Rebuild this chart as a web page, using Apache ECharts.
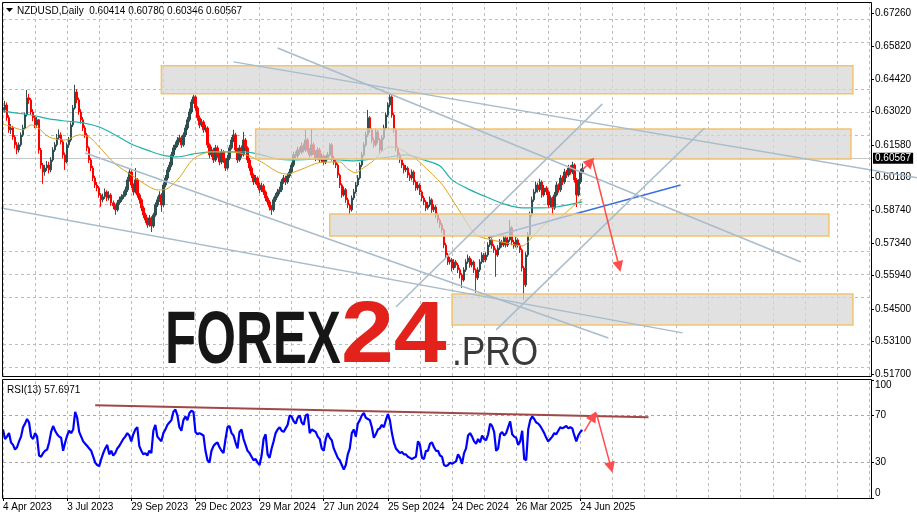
<!DOCTYPE html>
<html><head><meta charset="utf-8">
<script src="https://cdn.jsdelivr.net/npm/echarts@6/dist/echarts.min.js"></script>
<style>html,body{margin:0;padding:0;background:#fff}#c{width:917px;height:519px}</style>
</head><body><div id="c"></div>
<script>
// ---------- DATA (2-day resolution) ----------
const firstOpen = 0.6320;
const closes = [
0.6309,0.6330,0.6275,0.6223,0.6231,0.6192,0.6158,0.6136,0.6158,0.6201,
0.6231,0.6287,0.6361,0.6352,0.6300,0.6275,0.6244,0.6266,0.6136,0.6071,
0.6041,0.6058,0.6071,0.6050,0.6093,0.6136,0.6158,0.6188,0.6201,0.6171,
0.6115,0.6084,0.6158,0.6179,0.6244,0.6317,0.6386,0.6352,0.6300,0.6266,
0.6231,0.6201,0.6145,0.6093,0.6058,0.6015,0.5985,0.5972,0.5942,0.5921,
0.5934,0.5955,0.5929,0.5942,0.5908,0.5895,0.5878,0.5908,0.5921,0.5934,
0.5942,0.5964,0.6007,0.6041,0.5985,0.5955,0.6007,0.5942,0.5921,0.5886,
0.5856,0.5834,0.5813,0.5843,0.5808,0.5856,0.5899,0.5921,0.5942,0.5899,
0.5985,0.6015,0.6050,0.6071,0.6115,0.6145,0.6158,0.6179,0.6188,0.6158,
0.6201,0.6231,0.6266,0.6300,0.6343,0.6365,0.6317,0.6275,0.6244,0.6257,
0.6223,0.6231,0.6158,0.6115,0.6136,0.6093,0.6145,0.6115,0.6084,0.6127,
0.6093,0.6058,0.6101,0.6145,0.6179,0.6201,0.6136,0.6093,0.6145,0.6115,
0.6179,0.6145,0.6093,0.6058,0.6028,0.5998,0.6015,0.5985,0.5964,0.5981,
0.5955,0.5929,0.5912,0.5890,0.5878,0.5921,0.5938,0.5955,0.5964,0.5998,
0.6015,0.5998,0.6024,0.6041,0.6071,0.6115,0.6110,0.6136,0.6127,0.6153,
0.6136,0.6179,0.6136,0.6115,0.6158,0.6127,0.6101,0.6136,0.6093,0.6110,
0.6084,0.6101,0.6115,0.6158,0.6101,0.6084,0.6071,0.6028,0.5985,0.5942,
0.5964,0.5921,0.5899,0.5878,0.5929,0.5955,0.5985,0.6015,0.6071,0.6115,
0.6158,0.6201,0.6275,0.6223,0.6179,0.6158,0.6214,0.6179,0.6136,0.6188,
0.6231,0.6287,0.6330,0.6365,0.6287,0.6223,0.6145,0.6115,0.6093,0.6071,
0.6050,0.6058,0.6028,0.6015,0.6041,0.5998,0.5972,0.5985,0.5955,0.5929,
0.5912,0.5886,0.5899,0.5921,0.5878,0.5890,0.5856,0.5834,0.5813,0.5791,
0.5726,0.5683,0.5653,0.5662,0.5627,0.5653,0.5640,0.5619,0.5597,0.5575,
0.5619,0.5653,0.5670,0.5640,0.5653,0.5619,0.5584,0.5619,0.5653,0.5683,
0.5662,0.5683,0.5726,0.5748,0.5722,0.5705,0.5683,0.5713,0.5739,0.5726,
0.5757,0.5726,0.5748,0.5800,0.5739,0.5722,0.5748,0.5726,0.5705,0.5627,
0.5554,0.5683,0.5770,0.5856,0.5921,0.5955,0.5985,0.5964,0.5998,0.5942,
0.5972,0.5955,0.5899,0.5929,0.5886,0.5942,0.5985,0.5964,0.6015,0.5998,
0.6041,0.6028,0.6058,0.6041,0.6071,0.6007,0.5942,0.5998,0.6041,0.60567
];
const highs = [
0.6378,0.6348,0.6341,0.6286,0.6248,0.6240,0.6200,0.6170,0.6168,0.6212,
0.6245,0.6298,0.6395,0.6378,0.6360,0.6312,0.6285,0.6278,0.6270,0.6145,
0.6080,0.6072,0.6088,0.6085,0.6105,0.6148,0.6170,0.6205,0.6225,0.6212,
0.6180,0.6125,0.6168,0.6192,0.6255,0.6330,0.6417,0.6398,0.6362,0.6312,
0.6278,0.6242,0.6210,0.6152,0.6102,0.6068,0.6025,0.5998,0.5980,0.5950,
0.5948,0.5970,0.5962,0.5958,0.5950,0.5918,0.5902,0.5920,0.5935,0.5945,
0.5958,0.5978,0.6020,0.6058,0.6048,0.5992,0.6058,0.6015,0.5950,0.5928,
0.5895,0.5865,0.5845,0.5855,0.5850,0.5865,0.5910,0.5935,0.5958,0.5950,
0.5995,0.6028,0.6062,0.6085,0.6128,0.6158,0.6172,0.6192,0.6202,0.6198,
0.6212,0.6245,0.6278,0.6315,0.6355,0.6374,0.6372,0.6325,0.6285,0.6270,
0.6265,0.6245,0.6238,0.6165,0.6150,0.6145,0.6158,0.6155,0.6125,0.6140,
0.6135,0.6100,0.6115,0.6158,0.6192,0.6223,0.6210,0.6145,0.6158,0.6155,
0.6214,0.6188,0.6152,0.6102,0.6068,0.6035,0.6028,0.6022,0.5995,0.5995,
0.5990,0.5962,0.5938,0.5920,0.5898,0.5932,0.5950,0.5968,0.5978,0.6010,
0.6028,0.6025,0.6035,0.6055,0.6082,0.6128,0.6130,0.6150,0.6148,0.6168,
0.6165,0.6223,0.6188,0.6145,0.6227,0.6168,0.6135,0.6148,0.6145,0.6122,
0.6118,0.6112,0.6128,0.6166,0.6165,0.6110,0.6092,0.6078,0.6035,0.5992,
0.5978,0.5972,0.5930,0.5905,0.5940,0.5968,0.5998,0.6028,0.6082,0.6128,
0.6170,0.6215,0.6309,0.6282,0.6230,0.6190,0.6228,0.6222,0.6188,0.6200,
0.6245,0.6298,0.6342,0.6382,0.6372,0.6295,0.6230,0.6152,0.6125,0.6102,
0.6080,0.6072,0.6065,0.6038,0.6052,0.6048,0.6005,0.5998,0.5992,0.5962,
0.5938,0.5920,0.5912,0.5935,0.5928,0.5902,0.5898,0.5865,0.5842,0.5822,
0.5798,0.5735,0.5692,0.5675,0.5670,0.5665,0.5662,0.5648,0.5628,0.5605,
0.5630,0.5665,0.5685,0.5678,0.5665,0.5660,0.5625,0.5630,0.5665,0.5695,
0.5692,0.5695,0.5738,0.5762,0.5755,0.5730,0.5712,0.5725,0.5752,0.5748,
0.5770,0.5765,0.5760,0.5834,0.5808,0.5748,0.5760,0.5755,0.5735,0.5712,
0.5635,0.5695,0.5782,0.5870,0.5935,0.5968,0.6000,0.5995,0.6012,0.6005,
0.5985,0.5980,0.5962,0.5940,0.5935,0.5955,0.5998,0.5992,0.6028,0.6025,
0.6055,0.6050,0.6072,0.6070,0.6085,0.6078,0.6015,0.6010,0.6055,0.60780
];
const lows = [
0.6295,0.6298,0.6262,0.6210,0.6205,0.6180,0.6142,0.6118,0.6125,0.6150,
0.6192,0.6225,0.6280,0.6335,0.6288,0.6260,0.6230,0.6232,0.6120,0.6055,
0.5990,0.6025,0.6045,0.6035,0.6040,0.6085,0.6128,0.6150,0.6180,0.6160,
0.6100,0.6050,0.6078,0.6145,0.6170,0.6235,0.6310,0.6338,0.6288,0.6250,
0.6218,0.6188,0.6130,0.6080,0.6045,0.6002,0.5972,0.5958,0.5930,0.5891,
0.5910,0.5925,0.5915,0.5918,0.5895,0.5880,0.5856,0.5870,0.5900,0.5912,
0.5925,0.5935,0.5955,0.6000,0.5972,0.5940,0.5948,0.5930,0.5905,0.5872,
0.5842,0.5820,0.5800,0.5805,0.5782,0.5800,0.5848,0.5890,0.5912,0.5869,
0.5890,0.5975,0.6005,0.6040,0.6062,0.6105,0.6135,0.6148,0.6168,0.6145,
0.6150,0.6192,0.6222,0.6258,0.6292,0.6335,0.6305,0.6262,0.6230,0.6235,
0.6210,0.6212,0.6145,0.6100,0.6105,0.6080,0.6085,0.6102,0.6070,0.6075,
0.6080,0.6045,0.6050,0.6092,0.6138,0.6170,0.6125,0.6080,0.6085,0.6102,
0.6108,0.6132,0.6080,0.6045,0.6015,0.5985,0.5988,0.5972,0.5950,0.5955,
0.5942,0.5915,0.5898,0.5875,0.5856,0.5870,0.5912,0.5930,0.5945,0.5955,
0.5990,0.5985,0.5990,0.6015,0.6032,0.6062,0.6098,0.6102,0.6115,0.6118,
0.6125,0.6128,0.6125,0.6102,0.6108,0.6115,0.6088,0.6092,0.6080,0.6082,
0.6072,0.6075,0.6092,0.6108,0.6090,0.6072,0.6058,0.6015,0.5972,0.5930,
0.5935,0.5908,0.5885,0.5856,0.5870,0.5920,0.5948,0.5978,0.6008,0.6062,
0.6108,0.6150,0.6192,0.6210,0.6165,0.6145,0.6150,0.6165,0.6122,0.6128,
0.6180,0.6222,0.6278,0.6320,0.6275,0.6210,0.6130,0.6100,0.6080,0.6058,
0.6035,0.6040,0.6015,0.6002,0.6005,0.5985,0.5960,0.5962,0.5942,0.5915,
0.5898,0.5872,0.5878,0.5890,0.5865,0.5868,0.5842,0.5820,0.5800,0.5778,
0.5712,0.5670,0.5640,0.5642,0.5612,0.5618,0.5628,0.5605,0.5582,0.5541,
0.5568,0.5610,0.5645,0.5628,0.5630,0.5605,0.5520,0.5575,0.5610,0.5645,
0.5650,0.5652,0.5675,0.5718,0.5710,0.5692,0.5589,0.5675,0.5705,0.5715,
0.5718,0.5715,0.5718,0.5740,0.5725,0.5710,0.5715,0.5715,0.5692,0.5612,
0.5489,0.5545,0.5675,0.5762,0.5848,0.5912,0.5948,0.5952,0.5955,0.5930,
0.5935,0.5942,0.5885,0.5890,0.5856,0.5878,0.5935,0.5952,0.5955,0.5985,
0.5990,0.6015,0.6020,0.6030,0.6032,0.5995,0.5890,0.5935,0.5990,0.60346
];
const rsiValues = [
58,50,52,55,47,45,41,43,48,52, 60,63,67,64,52,50,55,52,36,35,
38,40,41,47,56,61,57,54,52,51, 40,47,53,57,55,58,73,68,56,52,
48,46,44,42,40,35,30,28,27,33, 38,42,45,37,40,36,38,42,44,47,
50,52,55,53,48,54,58,60,44,40, 37,38,36,40,38,57,62,52,50,48,
55,58,62,64,66,73,75,70,60,57, 66,69,66,72,74,73,56,54,55,54,
53,40,32,30,40,44,46,47,43,40, 38,50,60,61,55,53,47,42,56,58,
50,45,40,38,35,32,33,30,28,36, 50,54,37,34,42,48,55,58,60,57,
56,59,62,70,69,65,63,68,70,64, 62,70,71,55,58,57,56,52,50,42,
40,50,55,51,49,42,38,34,32,28, 24,28,37,42,55,58,52,63,66,70,
72,68,67,66,60,51,54,58,59,62, 60,66,71,66,55,47,42,40,38,39,
37,37,35,34,33,34,35,48,45,34, 33,40,40,46,47,43,40,40,36,35,
28,27,28,30,29,30,31,37,34,29, 38,42,53,55,52,48,46,50,47,53,
50,49,54,63,61,56,40,42,54,56, 53,55,60,65,54,52,51,45,48,57,
33,32,58,66,69,67,64,63,61,58, 55,51,48,50,52,55,54,57,60,59,
60,61,59,60,59,53,48,53,56,57.6971
];
// moving averages: [bar index, value]
const maSlow = [[0,0.6305],[6,0.6296],[14,0.6287],[23,0.6270],[31,0.6261],[40,0.6253],[48,0.6235],[56,0.6201],[64,0.6162],[73,0.6132],[79,0.6115],[87,0.6106],[95,0.6119],[104,0.6128],[120,0.6128],[129,0.6115],[137,0.6097],[145,0.6093],[160,0.6097],[168,0.6093],[176,0.6089],[184,0.6097],[193,0.6106],[201,0.6115],[210,0.6093],[218,0.6067],[224,0.6007],[233,0.5964],[241,0.5934],[250,0.5903],[259,0.5886],[268,0.5886],[276,0.5890],[289,0.5912]];
const maFast = [[0,0.6248],[3,0.6240],[10,0.6223],[14,0.6244],[17,0.6235],[23,0.6192],[31,0.6179],[38,0.6201],[43,0.6192],[48,0.6149],[56,0.6076],[64,0.6028],[73,0.5977],[77,0.5964],[80,0.5964],[87,0.6007],[95,0.6097],[104,0.6128],[112,0.6128],[120,0.6119],[129,0.6084],[137,0.6041],[142,0.6032],[148,0.6050],[160,0.6084],[168,0.6084],[172,0.6054],[176,0.6037],[179,0.6054],[184,0.6084],[193,0.6149],[198,0.6140],[206,0.6097],[213,0.6041],[218,0.5998],[221,0.5964],[229,0.5856],[236,0.5770],[244,0.5748],[251,0.5735],[259,0.5722],[264,0.5761],[271,0.5821],[278,0.5847],[284,0.5890],[289,0.5925]];
// zones: [fromBar, priceTop, toBar, priceBottom]
const zones = [[79.3,0.6499,424,0.6378],[125.7,0.6227,422.5,0.6097],[162.6,0.5860,411.6,0.5765],[224,0.5515,424,0.5381]];
// grey trend lines: [bar1, price1, bar2, price2]
const trendLines = [[114.7,0.6516,456,0.6016],[137.2,0.6576,397.6,0.5653],[-1.5,0.5886,339.2,0.5347],[40.9,0.6123,301.8,0.5325],[195.5,0.5459,299.3,0.6335],[246.4,0.5360,350.2,0.6231]];
const blueLine = [[241.9,0.5757,337.7,0.5985]];
const priceArrows = [[289.3,0.6050,294.8,0.6102],[294.3,0.6093,307.8,0.5610]];
const rsiTrend = [[45.9,78.6,321.8,68.4]];
const rsiArrows = [[290.3,56.4,296.3,73.5],[296.3,71.8,303.8,21.4]];
const dateLabels = ['4 Apr 2023','3 Jul 2023','29 Sep 2023','29 Dec 2023','29 Mar 2024','27 Jun 2024','25 Sep 2024','24 Dec 2024','26 Mar 2025','24 Jun 2025'];
const priceTicks = [0.6726,0.6582,0.6442,0.6302,0.6158,0.6018,0.5874,0.5734,0.5594,0.5450,0.5310,0.5170];
const rsiTicks = [0,30,70,100];
const rsiLevels = [30,70];
const priceRange = [0.5161, 0.6770];
const rsiRange = [0, 100];
const lastPrice = 0.60567;
const headerText = 'NZDUSD,Daily  0.60414 0.60780 0.60346 0.60567';
const rsiHeader = 'RSI(13) 57.6971';
const totalSlots = 434;
const gridStep = 16;

// ---------- BUILD ----------
const cats = Array.from({length: totalSlots}, (_, i) => String(i));
const ohlc = closes.map((c, i) => [i === 0 ? firstOpen : closes[i - 1], c, lows[i], highs[i]]);
const FONT = '"Liberation Sans", Arial, sans-serif';
const vIdx = cats.map((c, i) => i).filter(i => i % gridStep === 0);
const px = (v) => Math.round(v) + 0.5;

// grid lines as markLines (same mechanism as the visible last-price line)
function gridMarkLine(hVals, vColor, hColor) {
  const data = [];
  vIdx.forEach(k => data.push({xAxis: k, lineStyle: {color: vColor}}));
  hVals.forEach(v => data.push({yAxis: v, lineStyle: {color: hColor}}));
  return {silent: true, symbol: 'none', animation: false, label: {show: false},
    lineStyle: {type: [3, 3], width: 1}, data: data};
}
function frameSeries(xi, yi, range) {
  return {type: 'custom', xAxisIndex: xi, yAxisIndex: yi, z: 20, silent: true, clip: false,
    data: [[0, range[0]]],
    renderItem(params, api) {
      const a = api.coord([0, range[1]]), b = api.coord([totalSlots - 1, range[0]]);
      const x = px(a[0]) - 1, y = px(a[1]) - 1;
      return {type: 'rect', shape: {x: x, y: y, width: Math.round(b[0] - a[0]) + 1, height: Math.round(b[1] - a[1]) + 1},
        style: {fill: 'none', stroke: '#000', lineWidth: 1}};
    }};
}
function segSeries(list, xi, yi, style, z) {
  return {type: 'custom', xAxisIndex: xi, yAxisIndex: yi, z: z, silent: true, clip: false,
    data: list.map((d) => [d[0], d[1]]),
    renderItem(params, api) {
      const d = list[params.dataIndex];
      const a = api.coord([d[0], d[1]]), b = api.coord([d[2], d[3]]);
      return {type: 'line', shape: {x1: a[0], y1: a[1], x2: b[0], y2: b[1]}, style: style};
    }};
}
function arrowSeries(list, xi, yi, color, z) {
  return {type: 'custom', xAxisIndex: xi, yAxisIndex: yi, z: z, silent: true, clip: false,
    data: list.map((d) => [d[0], d[1]]),
    renderItem(params, api) {
      const d = list[params.dataIndex];
      const a = api.coord([d[0], d[1]]), b = api.coord([d[2], d[3]]);
      const dx = b[0] - a[0], dy = b[1] - a[1], len = Math.hypot(dx, dy) || 1;
      const ux = dx / len, uy = dy / len, hl = 11, hw = 5.5;
      const bx = b[0] - ux * hl, by = b[1] - uy * hl;
      return {type: 'group', children: [
        {type: 'line', shape: {x1: a[0], y1: a[1], x2: bx, y2: by}, style: {stroke: color, lineWidth: 1.5}},
        {type: 'polygon', shape: {points: [[b[0], b[1]], [bx - uy * hw, by + ux * hw], [bx + uy * hw, by - ux * hw]]}, style: {fill: color}}
      ]};
    }};
}

const chart = echarts.init(document.getElementById('c'), null, {renderer: 'canvas'});
chart.setOption({
  animation: false,
  backgroundColor: '#ffffff',
  grid: [
    {left: 3, right: 46, top: 3, bottom: 143, show: false},
    {left: 3, right: 46, top: 380, bottom: 21, show: false}
  ],
  xAxis: [
    {type: 'category', gridIndex: 0, data: cats, boundaryGap: false, axisLine: {show: false}, axisTick: {show: false}, axisLabel: {show: false}, splitLine: {show: false}},
    {type: 'category', gridIndex: 1, data: cats, boundaryGap: false, axisLine: {show: false},
      axisTick: {show: true, interval: (i) => i % 32 === 0 && i / 32 < dateLabels.length, length: 3, lineStyle: {color: '#000'}},
      axisLabel: {interval: (i) => i % 32 === 0 && i / 32 < dateLabels.length, formatter: (v, i) => dateLabels[i / 32] || '', align: 'left', fontSize: 10, fontFamily: FONT, color: '#000', margin: 4, hideOverlap: false},
      splitLine: {show: false}}
  ],
  yAxis: [
    {type: 'value', gridIndex: 0, position: 'right', min: priceRange[0], max: priceRange[1], scale: true,
      axisLine: {show: false},
      axisTick: {show: true, customValues: priceTicks, length: 3, lineStyle: {color: '#000'}},
      axisLabel: {customValues: priceTicks, formatter: (v) => v.toFixed(5), fontSize: 10, fontFamily: FONT, color: '#000', margin: 4},
      splitLine: {show: false}},
    {type: 'value', gridIndex: 1, position: 'right', min: rsiRange[0], max: rsiRange[1],
      axisLine: {show: false},
      axisTick: {show: true, customValues: rsiTicks, length: 3, lineStyle: {color: '#000'}},
      axisLabel: {customValues: rsiTicks, fontSize: 10, fontFamily: FONT, color: '#000', margin: 4, verticalAlignMaxLabel: 'top', verticalAlignMinLabel: 'bottom'},
      splitLine: {show: false}}
  ],
  graphic: [
    {type: 'polygon', shape: {points: [[6, 8], [13, 8], [9.5, 12]]}, style: {fill: '#000'}},
    {type: 'text', x: 17, y: 11, style: {text: headerText, font: '10px ' + FONT, fill: '#000', verticalAlign: 'middle'}},
    {type: 'text', x: 7, y: 390, style: {text: rsiHeader, font: '10px ' + FONT, fill: '#000', verticalAlign: 'middle'}},
    {type: 'text', x: 165, y: 343, scaleX: 0.69, style: {text: 'FOREX', font: 'bold 74px ' + FONT, fill: '#161616', verticalAlign: 'middle'}, z: 50},
    {type: 'text', x: 341, y: 338, scaleX: 1.08, style: {text: '24', font: 'bold 88px ' + FONT, fill: '#e3221b', verticalAlign: 'middle'}, z: 50},
    {type: 'text', x: 452, y: 354, scaleX: 0.86, style: {text: '.PRO', font: '41px ' + FONT, fill: '#3a3a3a', verticalAlign: 'middle'}, z: 50}
  ],
  series: [
    {type: 'line', xAxisIndex: 0, yAxisIndex: 0, data: [], z: 1, silent: true, markLine: gridMarkLine(priceTicks, '#bdbdbd', '#bdbdbd')},
    {type: 'line', xAxisIndex: 1, yAxisIndex: 1, data: [], z: 1, silent: true, markLine: gridMarkLine(rsiLevels, '#bdbdbd', '#a8a8a8')},
    {type: 'candlestick', xAxisIndex: 0, yAxisIndex: 0, data: ohlc, barWidth: 2, z: 5,
      itemStyle: {color: '#2f4f4f', color0: '#ff0000', borderColor: '#2f4f4f', borderColor0: '#ff0000', borderWidth: 1},
      markLine: {silent: true, symbol: 'none', animation: false, data: [{yAxis: lastPrice}],
        lineStyle: {color: '#c8c8c8', type: 'solid', width: 1},
        label: {position: 'end', distance: 2, formatter: lastPrice.toFixed(5), backgroundColor: '#000', color: '#fff', padding: [1, 2, 0, 2], fontSize: 10, fontFamily: FONT}}},
    {type: 'line', xAxisIndex: 0, yAxisIndex: 0, data: maSlow, showSymbol: false, smooth: 0.3, z: 6, lineStyle: {color: '#20b2aa', width: 1.2}},
    {type: 'line', xAxisIndex: 0, yAxisIndex: 0, data: maFast, showSymbol: false, smooth: 0.3, z: 6, lineStyle: {color: '#daa520', width: 1}},
    segSeries(blueLine, 0, 0, {stroke: '#3c6fe0', lineWidth: 1.5}, 7),
    {type: 'custom', xAxisIndex: 0, yAxisIndex: 0, z: 8, silent: true, clip: false,
      data: zones.map((d) => [d[0], d[1]]),
      renderItem(params, api) {
        const d = zones[params.dataIndex];
        const a = api.coord([d[0], d[1]]), b = api.coord([d[2], d[3]]);
        return {type: 'rect', shape: {x: Math.min(a[0], b[0]), y: Math.min(a[1], b[1]), width: Math.abs(b[0] - a[0]), height: Math.abs(b[1] - a[1])},
          style: {fill: 'rgba(214,214,214,0.72)', stroke: '#f2c46d', lineWidth: 1.5}};
      }},
    segSeries(trendLines, 0, 0, {stroke: '#a9bccb', lineWidth: 1.5}, 9),
    arrowSeries(priceArrows, 0, 0, '#ff4d4d', 10),
    {type: 'line', xAxisIndex: 1, yAxisIndex: 1, data: rsiValues, showSymbol: false, z: 6, lineStyle: {color: '#0000ff', width: 2.2}},
    segSeries(rsiTrend, 1, 1, {stroke: '#9e4848', lineWidth: 2}, 7),
    arrowSeries(rsiArrows, 1, 1, '#ff4d4d', 10),
    frameSeries(0, 0, priceRange),
    frameSeries(1, 1, rsiRange)
  ]
});
</script></body></html>
